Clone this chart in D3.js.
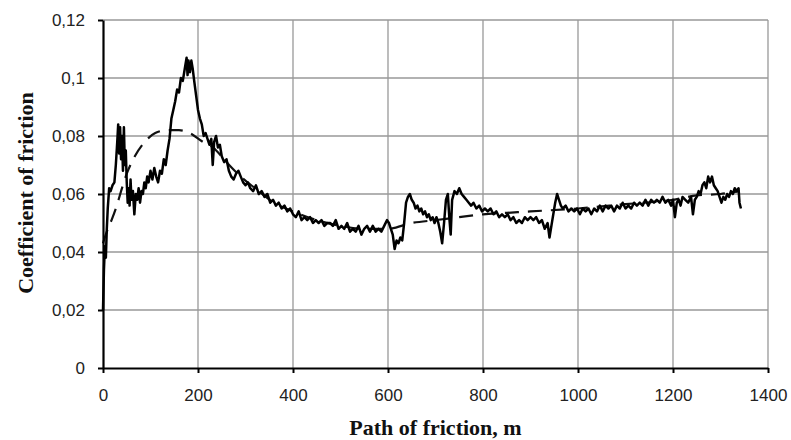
<!DOCTYPE html>
<html>
<head>
<meta charset="utf-8">
<script src="https://cdn.jsdelivr.net/npm/d3@7"></script>
<style>
  body { margin: 0; background: #fff; }
  .tick text { font-family: "Liberation Sans", Arial, sans-serif; font-size: 17px; fill: #222; }
  .title { font-family: "Liberation Serif", "Times New Roman", serif; font-size: 22px; font-weight: bold; fill: #111; }
</style>
</head>
<body>
<div id="vis"></div>
<script>
// Frame constants
const FRAME_WIDTH = 791;
const FRAME_HEIGHT = 440;
const MARGINS = {left: 103, right: 23, top: 20, bottom: 72};

// Tick labels
const X_TICKS = [0, 200, 400, 600, 800, 1000, 1200, 1400];
const Y_TICKS = [0, 0.02, 0.04, 0.06, 0.08, 0.1, 0.12];

// Measured friction curve (path, m)
const pathMeasured = [0, 2, 4, 6, 8, 10, 13, 16, 20, 24, 27, 30, 32, 34, 36, 38, 40, 42, 44, 46, 48, 50, 52, 54, 56, 58, 60, 63, 66, 69, 72, 75, 78, 81, 84, 87, 90, 93, 96, 100, 104, 108, 112, 116, 120, 124, 128, 132, 136, 140, 144, 148, 152, 156, 160, 164, 168, 172, 176, 178, 180, 183, 186, 189, 192, 196, 200, 204, 208, 212, 216, 220, 224, 228, 231, 234, 238, 242, 246, 250, 255, 260, 265, 270, 275, 280, 285, 290, 295, 300, 305, 310, 316, 322, 328, 334, 340, 346, 352, 358, 364, 370, 376, 382, 388, 394, 400, 406, 412, 418, 424, 430, 436, 442, 448, 454, 460, 466, 472, 478, 484, 490, 496, 502, 508, 514, 520, 526, 532, 538, 544, 550, 556, 562, 568, 574, 580, 586, 592, 598, 602, 606, 610, 614, 618, 622, 626, 630, 634, 638, 642, 646, 650, 654, 658, 662, 666, 670, 674, 678, 682, 686, 690, 694, 698, 702, 706, 710, 714, 718, 722, 726, 729, 732, 735, 740, 745, 750, 755, 760, 765, 770, 775, 780, 786, 792, 798, 804, 810, 816, 822, 828, 834, 840, 846, 852, 858, 864, 870, 876, 882, 888, 894, 900, 906, 912, 918, 924, 930, 936, 940, 944, 948, 952, 956, 960, 964, 968, 974, 980, 986, 992, 998, 1004, 1010, 1016, 1022, 1028, 1034, 1040, 1046, 1052, 1058, 1064, 1070, 1076, 1082, 1088, 1094, 1100, 1106, 1112, 1118, 1124, 1130, 1136, 1142, 1148, 1154, 1160, 1166, 1172, 1178, 1184, 1190, 1196, 1200, 1204, 1208, 1212, 1216, 1220, 1226, 1232, 1238, 1242, 1246, 1250, 1254, 1258, 1262, 1266, 1270, 1274, 1278, 1282, 1286, 1290, 1294, 1298, 1302, 1306, 1310, 1314, 1318, 1322, 1326, 1330, 1334, 1338, 1340, 1343];
// Measured coefficient of friction
const frictionMeasured = [0.020, 0.034, 0.042, 0.038, 0.048, 0.055, 0.062, 0.061, 0.063, 0.064, 0.070, 0.078, 0.084, 0.074, 0.083, 0.072, 0.080, 0.068, 0.083, 0.070, 0.075, 0.064, 0.057, 0.062, 0.056, 0.065, 0.058, 0.061, 0.053, 0.060, 0.058, 0.062, 0.057, 0.061, 0.060, 0.064, 0.062, 0.066, 0.064, 0.068, 0.065, 0.069, 0.066, 0.064, 0.068, 0.067, 0.072, 0.070, 0.075, 0.079, 0.086, 0.089, 0.092, 0.096, 0.095, 0.100, 0.099, 0.103, 0.107, 0.101, 0.106, 0.102, 0.106, 0.103, 0.099, 0.094, 0.089, 0.086, 0.084, 0.080, 0.081, 0.079, 0.077, 0.079, 0.070, 0.078, 0.080, 0.076, 0.077, 0.073, 0.071, 0.072, 0.068, 0.066, 0.065, 0.067, 0.068, 0.066, 0.064, 0.063, 0.064, 0.062, 0.061, 0.063, 0.060, 0.061, 0.059, 0.060, 0.057, 0.058, 0.056, 0.057, 0.055, 0.056, 0.054, 0.055, 0.053, 0.052, 0.054, 0.051, 0.052, 0.051, 0.052, 0.050, 0.051, 0.050, 0.051, 0.049, 0.050, 0.050, 0.049, 0.051, 0.048, 0.049, 0.048, 0.050, 0.047, 0.048, 0.047, 0.049, 0.046, 0.048, 0.049, 0.047, 0.049, 0.047, 0.048, 0.047, 0.049, 0.051, 0.050, 0.048, 0.046, 0.041, 0.044, 0.043, 0.045, 0.044, 0.050, 0.057, 0.059, 0.060, 0.058, 0.057, 0.055, 0.056, 0.054, 0.055, 0.053, 0.054, 0.052, 0.053, 0.051, 0.052, 0.050, 0.052, 0.050, 0.047, 0.043, 0.050, 0.058, 0.060, 0.052, 0.046, 0.058, 0.061, 0.060, 0.062, 0.060, 0.059, 0.058, 0.057, 0.056, 0.057, 0.055, 0.056, 0.054, 0.055, 0.054, 0.055, 0.053, 0.054, 0.052, 0.053, 0.052, 0.053, 0.051, 0.052, 0.050, 0.051, 0.050, 0.052, 0.051, 0.052, 0.051, 0.052, 0.050, 0.051, 0.048, 0.050, 0.045, 0.049, 0.053, 0.057, 0.060, 0.058, 0.056, 0.055, 0.056, 0.054, 0.055, 0.054, 0.055, 0.053, 0.055, 0.054, 0.055, 0.053, 0.055, 0.054, 0.056, 0.054, 0.056, 0.055, 0.056, 0.054, 0.056, 0.055, 0.057, 0.055, 0.056, 0.055, 0.057, 0.056, 0.057, 0.056, 0.058, 0.056, 0.058, 0.057, 0.058, 0.057, 0.059, 0.057, 0.058, 0.056, 0.058, 0.052, 0.057, 0.058, 0.056, 0.059, 0.058, 0.057, 0.059, 0.053, 0.058, 0.059, 0.061, 0.060, 0.063, 0.064, 0.062, 0.066, 0.064, 0.066, 0.063, 0.062, 0.061, 0.059, 0.057, 0.059, 0.058, 0.060, 0.059, 0.061, 0.060, 0.062, 0.061, 0.062, 0.057, 0.055];

// Approximating (trend) curve
const pathTrend = [0, 8, 18, 29, 40, 50, 67, 88, 110, 135, 160, 183, 210, 232, 260, 290, 320, 360, 400, 450, 500, 550, 600, 650, 700, 750, 800, 850, 900, 1000, 1100, 1200, 1250, 1300, 1340];
const frictionTrend = [0.043, 0.047, 0.051, 0.056, 0.062, 0.067, 0.073, 0.078, 0.081, 0.082, 0.082, 0.081, 0.078, 0.076, 0.071, 0.066, 0.062, 0.057, 0.054, 0.051, 0.049, 0.048, 0.048, 0.050, 0.051, 0.052, 0.053, 0.0535, 0.054, 0.055, 0.0565, 0.058, 0.0595, 0.060, 0.061];

// Vis size
const VIS_WIDTH = FRAME_WIDTH - MARGINS.left - MARGINS.right;
const VIS_HEIGHT = FRAME_HEIGHT - MARGINS.top - MARGINS.bottom;

const FRAME = d3.select("#vis")
  .append("svg")
    .attr("width", FRAME_WIDTH)
    .attr("height", FRAME_HEIGHT);

const X_SCALE = d3.scaleLinear().domain([0, 1400]).range([0, VIS_WIDTH]);
const Y_SCALE = d3.scaleLinear().domain([0, 0.12]).range([VIS_HEIGHT, 0]);

const fmt = (d) => d3.format("~g")(d).replace(".", ",");

const G = FRAME.append("g")
  .attr("transform", "translate(" + MARGINS.left + "," + MARGINS.top + ")");

// Grid lines
G.append("g")
  .selectAll("line")
  .data(Y_TICKS.slice(1))
  .enter()
  .append("line")
    .attr("x1", 0).attr("x2", VIS_WIDTH)
    .attr("y1", (d) => Y_SCALE(d)).attr("y2", (d) => Y_SCALE(d))
    .attr("stroke", "#999").attr("stroke-width", 1.3);

G.append("g")
  .selectAll("line")
  .data(X_TICKS.slice(1))
  .enter()
  .append("line")
    .attr("x1", (d) => X_SCALE(d)).attr("x2", (d) => X_SCALE(d))
    .attr("y1", 0).attr("y2", VIS_HEIGHT)
    .attr("stroke", "#999").attr("stroke-width", 1.3);

// Trend line (dashed)
const trend = pathTrend.map((p, i) => [p, frictionTrend[i]]);
G.append("path")
  .datum(trend)
  .attr("fill", "none")
  .attr("stroke", "#111")
  .attr("stroke-width", 2.2)
  .attr("stroke-dasharray", "14,9")
  .attr("d", d3.line().curve(d3.curveMonotoneX)
    .x((d) => X_SCALE(d[0]))
    .y((d) => Y_SCALE(d[1])));

// Measured line
const measured = pathMeasured.map((p, i) => [p, frictionMeasured[i]]);
G.append("path")
  .datum(measured)
  .attr("fill", "none")
  .attr("stroke", "#000")
  .attr("stroke-width", 2.5)
  .attr("stroke-linejoin", "round")
  .attr("d", d3.line()
    .x((d) => X_SCALE(d[0]))
    .y((d) => Y_SCALE(d[1])));

// Axes
const xAxis = G.append("g")
  .attr("transform", "translate(0," + VIS_HEIGHT + ")")
  .call(d3.axisBottom(X_SCALE).tickValues(X_TICKS).tickFormat(fmt).tickSize(5).tickSizeOuter(0).tickPadding(16));
const yAxis = G.append("g")
  .call(d3.axisLeft(Y_SCALE).tickValues(Y_TICKS).tickFormat(fmt).tickSize(5).tickSizeOuter(0).tickPadding(13));

[xAxis, yAxis].forEach((a) => {
  a.select(".domain").attr("stroke", "#000").attr("stroke-width", 2.2);
  a.selectAll(".tick line").attr("stroke", "#000").attr("stroke-width", 2);
});

// Axis titles
FRAME.append("text")
  .attr("class", "title")
  .attr("x", MARGINS.left + VIS_WIDTH / 2)
  .attr("y", 435)
  .attr("text-anchor", "middle")
  .text("Path of friction, m");

FRAME.append("text")
  .attr("class", "title")
  .attr("transform", "translate(33,193) rotate(-90)")
  .attr("text-anchor", "middle")
  .text("Coefficient of friction");
</script>
</body>
</html>
